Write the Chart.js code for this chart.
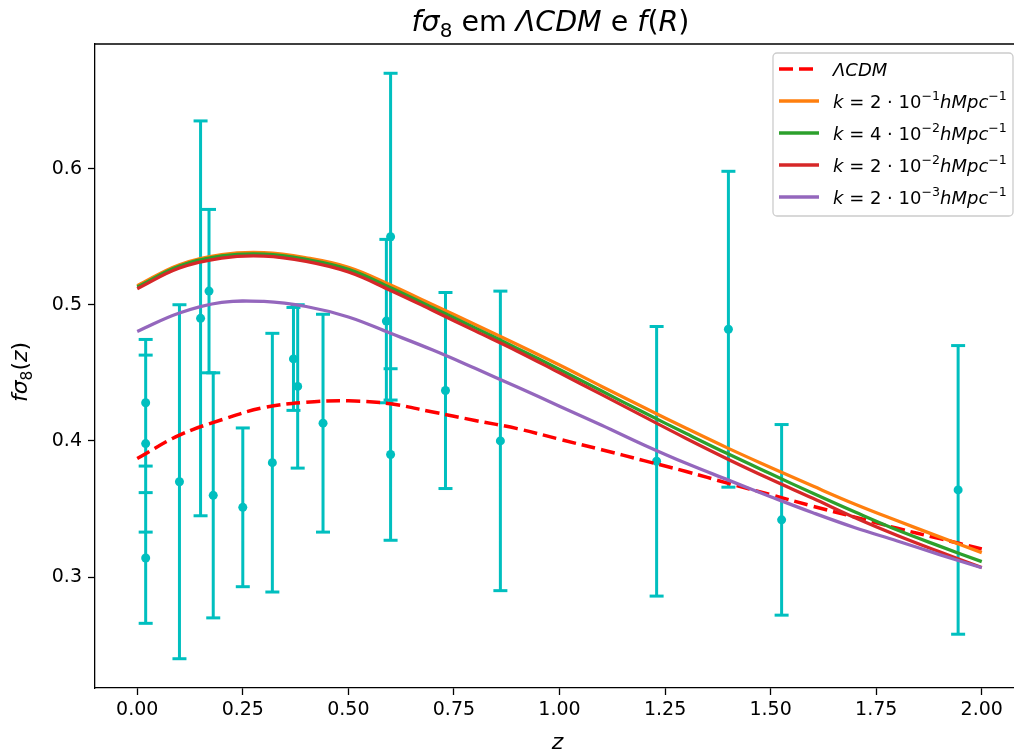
<!DOCTYPE html>
<html><head><meta charset="utf-8">
<script src="https://cdn.jsdelivr.net/npm/chart.js@4.4.0/dist/chart.umd.min.js"></script>
<style>html,body{margin:0;padding:0;overflow:hidden;background:#fff;width:1014px;height:754px}</style>
</head><body>
<canvas id="c" width="1034" height="754" style="display:block;width:1034px;height:754px"></canvas>
<script>
// ---- data ----
const zGrid = [0,0.1,0.2,0.3,0.4,0.5,0.6,0.7,0.8,0.9,1.0,1.1,1.2,1.3,1.4,1.5,1.6,1.7,1.8,1.9,2.0];
const lcdm  = [0.387,0.4042,0.4155,0.4245,0.4283,0.4294,0.4272,0.4212,0.4150,0.4090,0.4012,0.3935,0.3855,0.3775,0.3688,0.3605,0.3520,0.3440,0.3358,0.3282,0.3206];
const k2e1  = [0.514,0.5294,0.5368,0.5382,0.5345,0.5275,0.5145,0.5000,0.4855,0.4708,0.4557,0.4400,0.4245,0.4093,0.3945,0.3805,0.3668,0.3535,0.3413,0.3295,0.3179];
const k4e2  = [0.513,0.5284,0.5358,0.5372,0.5333,0.5260,0.5125,0.4977,0.4830,0.4679,0.4525,0.4366,0.4208,0.4054,0.3903,0.3758,0.3615,0.3477,0.3345,0.3227,0.3113];
const k2e2  = [0.5118,0.5270,0.5343,0.5357,0.5318,0.5240,0.5105,0.4958,0.4808,0.4659,0.4500,0.4340,0.4178,0.4018,0.3864,0.3718,0.3578,0.3435,0.3305,0.3185,0.307];
const k2e3  = [0.4804,0.4939,0.5017,0.5024,0.4987,0.4910,0.4790,0.4667,0.4533,0.4395,0.4255,0.4115,0.3970,0.3835,0.3712,0.3590,0.3472,0.3362,0.3265,0.3165,0.3068];
const obsZ   = [0.02,0.02,0.02,0.10,0.15,0.17,0.18,0.38,0.25,0.37,0.32,0.59,0.44,0.60,0.73,0.60,0.86,1.40,1.23,1.526,1.944];
const obsF   = [0.428,0.398,0.314,0.370,0.490,0.510,0.360,0.440,0.3512,0.4602,0.384,0.488,0.413,0.390,0.437,0.550,0.400,0.482,0.385,0.342,0.364];
const obsErr = [0.0465,0.065,0.048,0.130,0.145,0.060,0.090,0.060,0.0583,0.0378,0.095,0.060,0.080,0.063,0.072,0.120,0.110,0.116,0.099,0.070,0.106];
const xTicks = [0,0.25,0.5,0.75,1.0,1.25,1.5,1.75,2.0];
const yTicks = [0.3,0.4,0.5,0.6];

const FONT = '"DejaVu Sans", "Liberation Sans", sans-serif';
const CYAN = '#00bfbf';

const curve = (vals) => zGrid.map((z,i)=>({x:z,y:vals[i]}));
const errData = [];
obsZ.forEach((z,i)=>{
  errData.push({x:z,y:obsF[i]-obsErr[i]});
  errData.push({x:z,y:obsF[i]+obsErr[i]});
  errData.push({x:z,y:null});
});
const ptData = obsZ.map((z,i)=>({x:z,y:obsF[i]}));

const legendItems = [
  {color:'#ff0000', dash:[14,6], segs:[{t:'ΛCDM',i:1}]},
  {color:'#ff7f0e', segs:[{t:'k',i:1},{t:' = 2 · 10'},{t:'−1',s:'sup'},{t:'hMpc',i:1},{t:'−1',s:'sup'}]},
  {color:'#2ca02c', segs:[{t:'k',i:1},{t:' = 4 · 10'},{t:'−2',s:'sup'},{t:'hMpc',i:1},{t:'−1',s:'sup'}]},
  {color:'#d62728', segs:[{t:'k',i:1},{t:' = 2 · 10'},{t:'−2',s:'sup'},{t:'hMpc',i:1},{t:'−1',s:'sup'}]},
  {color:'#9467bd', segs:[{t:'k',i:1},{t:' = 2 · 10'},{t:'−3',s:'sup'},{t:'hMpc',i:1},{t:'−1',s:'sup'}]}
];

function segFont(s,size){const fs=s.s?size*0.7:size;return (s.i?'italic ':'')+fs+'px '+FONT;}
function richWidth(ctx,segs,size){let w=0;for(const s of segs){ctx.font=segFont(s,size);w+=ctx.measureText(s.t).width;}return w;}
function drawRich(ctx,segs,x,y,size,align){
  const w=richWidth(ctx,segs,size);
  let cx = align==='center'? x-w/2 : x;
  ctx.textBaseline='alphabetic'; ctx.textAlign='left';
  for(const s of segs){
    ctx.font=segFont(s,size);
    const dy = s.s==='sub'? size*0.22 : (s.s==='sup'? -size*0.42 : 0);
    ctx.fillText(s.t,cx,y+dy);
    cx+=ctx.measureText(s.t).width;
  }
}

const decor = {
  id:'decor',
  afterDraw(chart){
    const ctx=chart.ctx, a=chart.chartArea;
    ctx.save();
    ctx.strokeStyle='#000'; ctx.lineWidth=1.3;
    ctx.beginPath(); ctx.moveTo(a.left,a.top); ctx.lineTo(a.right,a.top); ctx.lineTo(a.right,a.bottom); ctx.stroke();
    ctx.fillStyle='#000';
    drawRich(ctx,[{t:'f',i:1},{t:'σ',i:1},{t:'8',s:'sub'},{t:' em '},{t:'ΛCDM',i:1},{t:' e '},{t:'f',i:1},{t:'('},{t:'R',i:1},{t:')'}],(a.left+a.right)/2-9,a.top-13,28.5,'center');
    drawRich(ctx,[{t:'z',i:1}],(a.left+a.right)/2-2,749,22,'center');
    ctx.save(); ctx.translate(27,(a.top+a.bottom)/2+6); ctx.rotate(-Math.PI/2);
    drawRich(ctx,[{t:'f',i:1},{t:'σ',i:1},{t:'8',s:'sub'},{t:'('},{t:'z',i:1},{t:')'}],0,0,22,'center');
    ctx.restore();
    const lx=773, ly=53, lw=240, lh=163;
    ctx.fillStyle='rgba(255,255,255,0.8)'; ctx.strokeStyle='#cccccc'; ctx.lineWidth=1.3;
    ctx.beginPath(); ctx.roundRect(lx,ly,lw,lh,4); ctx.fill(); ctx.stroke();
    legendItems.forEach((it,i)=>{
      const y=69+i*32;
      ctx.strokeStyle=it.color; ctx.lineWidth=it.dash?3.5:3.3; ctx.setLineDash(it.dash||[]);
      ctx.beginPath(); ctx.moveTo(779,y); ctx.lineTo(819,y); ctx.stroke();
      ctx.setLineDash([]);
      ctx.fillStyle='#000';
      drawRich(ctx,it.segs,833,y+6.5,18,'left');
    });
    ctx.restore();
  }
};

const lineOpts = {pointRadius:0,tension:0.4,cubicInterpolationMode:'default'};
new Chart(document.getElementById('c'),{
  type:'line',
  data:{datasets:[
    Object.assign({label:'ΛCDM',data:curve(lcdm),borderColor:'#ff0000',borderWidth:3.5,borderDash:[14,6],order:5},lineOpts),
    Object.assign({label:'k=2e-1',data:curve(k2e1),borderColor:'#ff7f0e',borderWidth:3.3,order:4},lineOpts),
    Object.assign({label:'k=4e-2',data:curve(k4e2),borderColor:'#2ca02c',borderWidth:3.3,order:3},lineOpts),
    Object.assign({label:'k=2e-2',data:curve(k2e2),borderColor:'#d62728',borderWidth:3.3,order:2},lineOpts),
    Object.assign({label:'k=2e-3',data:curve(k2e3),borderColor:'#9467bd',borderWidth:3.3,order:1},lineOpts),
    {label:'err',data:errData,borderColor:CYAN,borderWidth:3,spanGaps:false,tension:0,pointStyle:'line',pointRadius:7,pointBorderWidth:3,pointBorderColor:CYAN,pointBackgroundColor:CYAN,order:7},
    {label:'obs',data:ptData,showLine:false,pointStyle:'circle',pointRadius:4.5,pointBorderWidth:0,pointBackgroundColor:CYAN,pointBorderColor:CYAN,order:6}
  ]},
  options:{
    responsive:false, animation:false, events:[],
    layout:{padding:{left:0,top:44,right:6,bottom:0}},
    plugins:{legend:{display:false},title:{display:false},tooltip:{enabled:false}},
    scales:{
      x:{type:'linear',min:-0.1,max:2.1,
        afterBuildTicks:(s)=>{s.ticks=xTicks.map(v=>({value:v}));},
        afterFit:(s)=>{s.height=66;},
        grid:{display:true,drawOnChartArea:false,drawTicks:true,tickLength:7,tickColor:'#000',tickWidth:1.3},
        border:{display:true,color:'#000',width:1.3},
        ticks:{color:'#000',font:{family:FONT,size:19},padding:4,maxRotation:0,autoSkip:false,callback:(v)=>Number(v).toFixed(2)}
      },
      y:{type:'linear',min:0.2185,max:0.6915,
        afterBuildTicks:(s)=>{s.ticks=yTicks.map(v=>({value:v}));},
        afterFit:(s)=>{s.width=95;},
        grid:{display:true,drawOnChartArea:false,drawTicks:true,tickLength:7,tickColor:'#000',tickWidth:1.3},
        border:{display:true,color:'#000',width:1.3},
        ticks:{color:'#000',font:{family:FONT,size:19},padding:6,autoSkip:false,callback:(v)=>Number(v).toFixed(1)}
      }
    }
  },
  plugins:[decor]
});
</script>
</body></html>
